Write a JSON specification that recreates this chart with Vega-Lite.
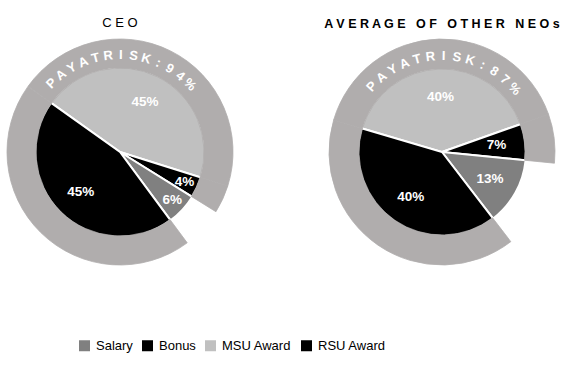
{
  "$schema": "https://vega.github.io/schema/vega-lite/v6.json",
  "padding": {"top": 17, "left": 0, "right": 0, "bottom": 0},
  "datasets": {
    "pay": [
      {"chart": "CEO", "part": "MSU Award", "value": 0.45, "rank": 1},
      {"chart": "CEO", "part": "Bonus", "value": 0.04, "rank": 2},
      {"chart": "CEO", "part": "Salary", "value": 0.06, "rank": 3},
      {"chart": "CEO", "part": "RSU Award", "value": 0.45, "rank": 4},
      {"chart": "NEO", "part": "MSU Award", "value": 0.40, "rank": 1},
      {"chart": "NEO", "part": "Bonus", "value": 0.07, "rank": 2},
      {"chart": "NEO", "part": "Salary", "value": 0.13, "rank": 3},
      {"chart": "NEO", "part": "RSU Award", "value": 0.40, "rank": 4}
    ],
    "chars": [
      {"chart": "CEO", "k": 0, "ch": "P"}, {"chart": "CEO", "k": 1, "ch": "A"}, {"chart": "CEO", "k": 2, "ch": "Y"},
      {"chart": "CEO", "k": 3, "ch": "A"}, {"chart": "CEO", "k": 4, "ch": "T"}, {"chart": "CEO", "k": 5, "ch": "R"},
      {"chart": "CEO", "k": 6, "ch": "I"}, {"chart": "CEO", "k": 7, "ch": "S"}, {"chart": "CEO", "k": 8, "ch": "K"},
      {"chart": "CEO", "k": 9, "ch": ":"}, {"chart": "CEO", "k": 10, "ch": "9"}, {"chart": "CEO", "k": 11, "ch": "4"},
      {"chart": "CEO", "k": 12, "ch": "%"},
      {"chart": "NEO", "k": 0, "ch": "P"}, {"chart": "NEO", "k": 1, "ch": "A"}, {"chart": "NEO", "k": 2, "ch": "Y"},
      {"chart": "NEO", "k": 3, "ch": "A"}, {"chart": "NEO", "k": 4, "ch": "T"}, {"chart": "NEO", "k": 5, "ch": "R"},
      {"chart": "NEO", "k": 6, "ch": "I"}, {"chart": "NEO", "k": 7, "ch": "S"}, {"chart": "NEO", "k": 8, "ch": "K"},
      {"chart": "NEO", "k": 9, "ch": ":"}, {"chart": "NEO", "k": 10, "ch": "8"}, {"chart": "NEO", "k": 11, "ch": "7"},
      {"chart": "NEO", "k": 12, "ch": "%"}
    ]
  },
  "config": {
    "view": {"stroke": null},
    "font": "Liberation Sans",
    "legend": {
      "orient": "none",
      "legendX": 78,
      "legendY": 302,
      "direction": "horizontal",
      "title": null,
      "padding": 0,
      "symbolType": "square",
      "symbolSize": 121,
      "symbolStrokeWidth": 0,
      "symbolOpacity": 1,
      "labelFont": "Liberation Sans",
      "labelFontSize": 13,
      "labelColor": "#000000",
      "labelOffset": 5,
      "columnPadding": 8
    }
  },
  "spacing": 82,
  "resolve": {"scale": {"theta": "independent", "radius": "independent", "angle": "independent", "color": "shared"}, "legend": {"color": "shared"}},
  "hconcat": [
    {
      "title": {"text": "C E O", "fontSize": 13, "fontWeight": "normal", "font": "Liberation Sans", "color": "#000000", "anchor": "middle", "offset": 7},
      "width": 240,
      "height": 230,
      "resolve": {"scale": {"theta": "independent"}},
      "layer": [
        {
          "data": {"name": "pay"},
          "transform": [{"filter": "datum.chart === 'CEO'"}],
          "mark": {"type": "arc", "outerRadius": 85, "stroke": "#ffffff", "strokeWidth": 2},
          "encoding": {
            "theta": {"field": "value", "type": "quantitative", "stack": true, "scale": {"range": [-0.951, 5.332]}},
            "order": {"field": "rank", "type": "quantitative"},
            "color": {"field": "part", "type": "nominal", "scale": {"domain": ["Salary", "Bonus", "MSU Award", "RSU Award"], "range": ["#808080", "#000000", "#c0c0c0", "#000000"]}}
          }
        },
        {
          "data": {"name": "pay"},
          "transform": [{"filter": "datum.chart === 'CEO'"}],
          "mark": {"type": "arc", "innerRadius": 84, "outerRadius": 113, "strokeWidth": 0.8},
          "encoding": {
            "theta": {"field": "value", "type": "quantitative", "stack": true, "scale": {"range": [-0.951, 5.332]}},
            "order": {"field": "rank", "type": "quantitative"},
            "detail": {"field": "part"},
            "fill": {"condition": {"test": "datum.part === 'Salary'", "value": "transparent"}, "value": "#b0adad"},
            "stroke": {"condition": {"test": "datum.part === 'Salary'", "value": "transparent"}, "value": "#b0adad"}
          }
        },
        {
          "data": {"name": "pay"},
          "transform": [{"filter": "datum.chart === 'CEO'"}],
          "mark": {"type": "text", "fill": "#ffffff", "fontWeight": "bold", "fontSize": 13.5, "align": "center", "baseline": "middle"},
          "encoding": {
            "theta": {"field": "value", "type": "quantitative", "stack": true, "scale": {"range": [-0.951, 5.332]}},
            "order": {"field": "rank", "type": "quantitative"},
            "detail": {"field": "part"},
            "radius": {"field": "value", "type": "quantitative", "scale": {"type": "linear", "domain": [0.04, 0.065, 0.07, 0.45], "range": [71, 71, 56, 56], "clamp": true, "zero": false}},
            "text": {"field": "value", "type": "quantitative", "format": ".0%"}
          }
        },
        {
          "data": {"name": "chars"},
          "transform": [{"filter": "datum.chart === 'CEO'"}],
          "mark": {"type": "text", "radius": 97, "fill": "#ffffff", "fontSize": 13, "fontWeight": "bold", "align": "center", "baseline": "middle"},
          "encoding": {
            "theta": {"field": "k", "type": "quantitative", "stack": null, "scale": {"domain": [0, 12], "range": [-0.785, 0.803], "zero": false}},
            "angle": {"field": "k", "type": "quantitative", "scale": {"domain": [0, 12], "range": [-45, 46], "zero": false}},
            "text": {"field": "ch"}
          }
        }
      ]
    },
    {
      "title": {"text": "A V E R A G E \u00a0 O F \u00a0 O T H E R \u00a0 N E O s", "fontSize": 12.5, "fontWeight": "bold", "font": "Liberation Sans", "color": "#000000", "anchor": "middle", "offset": 7},
      "width": 240,
      "height": 230,
      "resolve": {"scale": {"theta": "independent"}},
      "layer": [
        {
          "data": {"name": "pay"},
          "transform": [{"filter": "datum.chart === 'NEO'"}],
          "mark": {"type": "arc", "outerRadius": 84, "stroke": "#ffffff", "strokeWidth": 2},
          "encoding": {
            "theta": {"field": "value", "type": "quantitative", "stack": true, "scale": {"range": [-1.283, 5.000]}},
            "order": {"field": "rank", "type": "quantitative"},
            "color": {"field": "part", "type": "nominal", "scale": {"domain": ["Salary", "Bonus", "MSU Award", "RSU Award"], "range": ["#808080", "#000000", "#c0c0c0", "#000000"]}}
          }
        },
        {
          "data": {"name": "pay"},
          "transform": [{"filter": "datum.chart === 'NEO'"}],
          "mark": {"type": "arc", "innerRadius": 83, "outerRadius": 113, "strokeWidth": 0.8},
          "encoding": {
            "theta": {"field": "value", "type": "quantitative", "stack": true, "scale": {"range": [-1.283, 5.000]}},
            "order": {"field": "rank", "type": "quantitative"},
            "detail": {"field": "part"},
            "fill": {"condition": {"test": "datum.part === 'Salary'", "value": "transparent"}, "value": "#b0adad"},
            "stroke": {"condition": {"test": "datum.part === 'Salary'", "value": "transparent"}, "value": "#b0adad"}
          }
        },
        {
          "data": {"name": "pay"},
          "transform": [{"filter": "datum.chart === 'NEO'"}],
          "mark": {"type": "text", "fill": "#ffffff", "fontWeight": "bold", "fontSize": 13.5, "align": "center", "baseline": "middle"},
          "encoding": {
            "theta": {"field": "value", "type": "quantitative", "stack": true, "scale": {"range": [-1.283, 5.000]}},
            "order": {"field": "rank", "type": "quantitative"},
            "detail": {"field": "part"},
            "radius": {"field": "value", "type": "quantitative", "scale": {"type": "linear", "domain": [0.04, 0.065, 0.07, 0.45], "range": [71, 71, 55, 55], "clamp": true, "zero": false}},
            "text": {"field": "value", "type": "quantitative", "format": ".0%"}
          }
        },
        {
          "data": {"name": "chars"},
          "transform": [{"filter": "datum.chart === 'NEO'"}],
          "mark": {"type": "text", "radius": 96, "fill": "#ffffff", "fontSize": 13, "fontWeight": "bold", "align": "center", "baseline": "middle"},
          "encoding": {
            "theta": {"field": "k", "type": "quantitative", "stack": null, "scale": {"domain": [0, 12], "range": [-0.82, 0.855], "zero": false}},
            "angle": {"field": "k", "type": "quantitative", "scale": {"domain": [0, 12], "range": [-47, 49], "zero": false}},
            "text": {"field": "ch"}
          }
        }
      ]
    }
  ]
}
